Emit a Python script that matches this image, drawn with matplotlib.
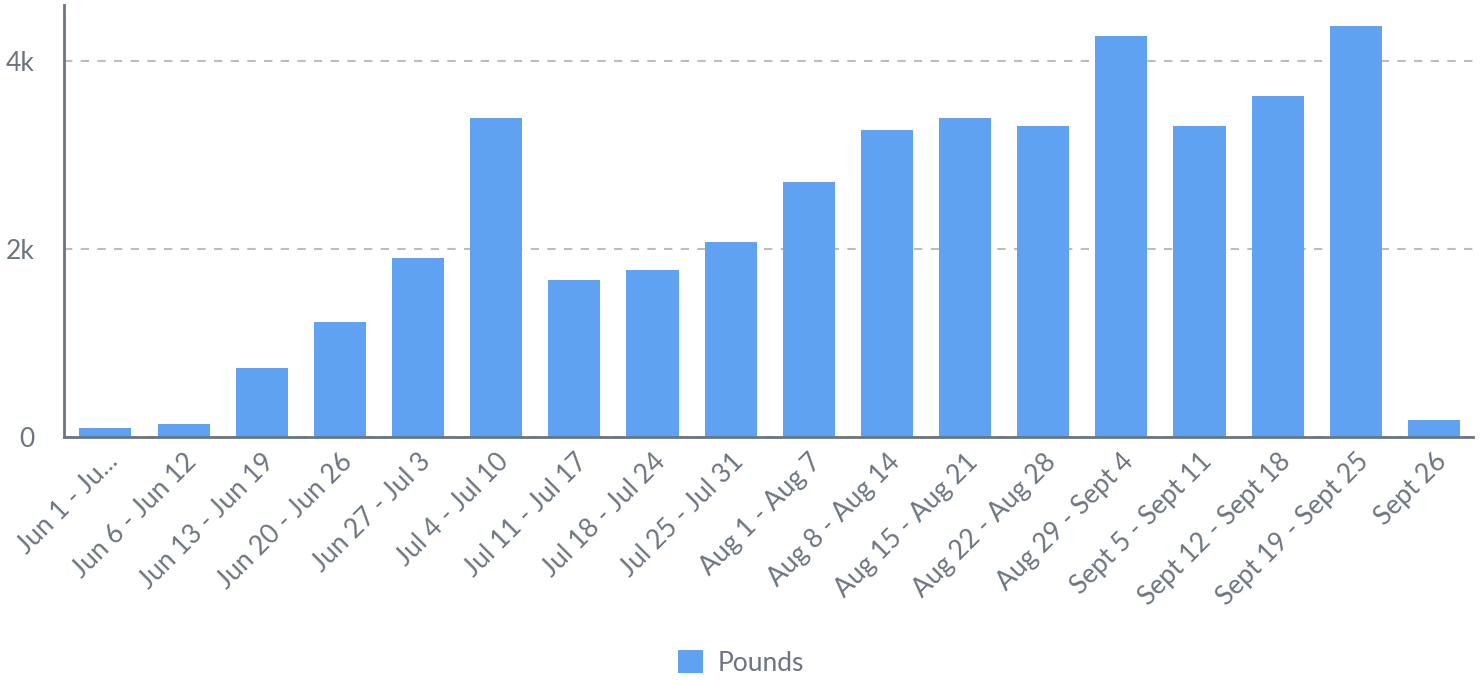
import matplotlib.pyplot as plt

WEEKS = ['Jun 1 - Ju...', 'Jun 6 - Jun 12', 'Jun 13 - Jun 19', 'Jun 20 - Jun 26',
         'Jun 27 - Jul 3', 'Jul 4 - Jul 10', 'Jul 11 - Jul 17', 'Jul 18 - Jul 24',
         'Jul 25 - Jul 31', 'Aug 1 - Aug 7', 'Aug 8 - Aug 14', 'Aug 15 - Aug 21',
         'Aug 22 - Aug 28', 'Aug 29 - Sept 4', 'Sept 5 - Sept 11',
         'Sept 12 - Sept 18', 'Sept 19 - Sept 25', 'Sept 26']
POUNDS = [91, 133, 731, 1221, 1904, 3397, 1669, 1776, 2075, 2715, 3269, 3397,
          3312, 4272, 3312, 3632, 4379, 176]
Y_TICKS = [0, 2000, 4000]
Y_LABELS = ['0', '2k', '4k']

BAR_COLOR = '#5fa2f1'
TEXT_COLOR = '#6b7480'

plt.rcParams['font.family'] = ['Lato', 'DejaVu Sans']

fig = plt.figure(figsize=(14.82, 6.8), dpi=100)
ax = fig.add_axes([0.0432, 0.358, 0.9507, 0.6346])

x = range(len(WEEKS))
bars = ax.bar(x, POUNDS, width=0.667, color=BAR_COLOR, label='Pounds', zorder=2)

ax.set_xlim(-0.53, len(WEEKS) - 0.5)
ax.set_ylim(0, 4600)
ax.set_yticks(Y_TICKS)
ax.set_yticklabels(Y_LABELS)
ax.set_xticks(list(x))
ax.set_xticklabels(WEEKS, rotation=45, ha='right', rotation_mode='anchor')

ax.grid(axis='y', linestyle=(0, (4, 4)), color='#bdbdbd', linewidth=1.5, zorder=0)
for s in ['top', 'right']:
    ax.spines[s].set_visible(False)
for s in ['left', 'bottom']:
    ax.spines[s].set_color(TEXT_COLOR)
    ax.spines[s].set_linewidth(2)
ax.tick_params(axis='both', length=0, labelsize=19, colors=TEXT_COLOR)
ax.tick_params(axis='y', pad=21)
ax.tick_params(axis='x', pad=9)

fig.legend(handles=[bars], loc='center', bbox_to_anchor=(0.5, 1 - 663 / 680),
           frameon=False, fontsize=19, handlelength=0.95, handleheight=0.95,
           labelcolor=TEXT_COLOR, handletextpad=0.55)

fig.savefig('out.png', dpi=100)
